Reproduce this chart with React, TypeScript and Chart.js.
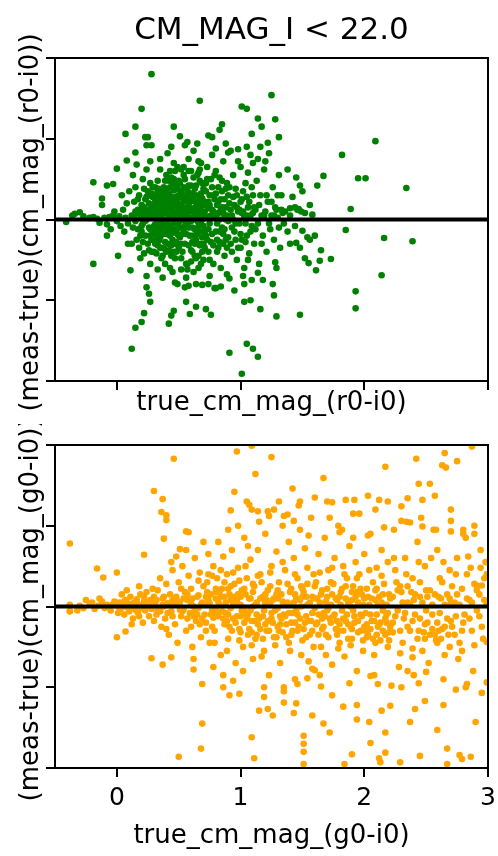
import { useEffect, useRef } from "react";
import { Chart, registerables } from "chart.js";

Chart.register(...registerables);
Chart.defaults.font.family = "'DejaVu Sans', sans-serif";
Chart.defaults.color = "#000";

const TITLE = "CM_MAG_I < 22.0";
const X_LABEL_TOP = "true_cm_mag_(r0-i0)";
const Y_LABEL_TOP = "(meas-true)(cm_mag_(r0-i0))";
const X_LABEL_BOTTOM = "true_cm_mag_(g0-i0)";
const Y_LABEL_BOTTOM = "(meas-true)(cm_mag_(g0-i0))";

const X_RANGE = [-0.5, 3];
const X_TICKS = [0, 1, 2, 3];
const Y_RANGE = [-2, 2];
const Y_TICKS = [-2, -1, 0, 1, 2];
const ZERO_LINE = 0;

const GREEN = "green";
const ORANGE = "orange";

// top panel: (true r-i colour, meas-true residual)
const greenPoints: [number, number][] = [
  [-0.41,-0.03],[-0.36,0.05],[-0.30,0.09],[-0.34,0.07],[-0.27,0.04],[-0.22,0.02],[-0.19,0.03],[-0.16,0.01],[-0.14,-0.04],[-0.12,0.26],
  [-0.10,0.02],[-0.08,-0.06],[-0.06,0.03],[-0.05,-0.12],[-0.03,0.05],[-0.02,0.10],[0.0,-0.02],[0.02,0.04],[0.03,-0.08],[0.05,0.12],
  [0.06,-0.15],[0.07,0.02],[0.08,0.20],[0.09,-0.05],[-0.08,-0.20],[0.01,-0.45],[-0.19,-0.55],[0.11,-0.63],[-0.19,0.46],[0.00,0.63],
  [0.08,0.73],[-0.08,0.42],[-0.03,0.44],[-0.12,0.18],[0.04,0.30],[0.10,0.35],[0.09,-0.30],
  [0.12,0.05],[0.13,-0.10],[0.14,0.22],[0.15,-0.02],[0.15,0.40],[0.16,-0.25],[0.17,0.12],[0.18,0.30],[0.18,-0.35],[0.19,0.02],
  [0.20,-0.15],[0.20,0.18],[0.21,0.50],[0.21,-0.05],[0.22,0.08],[0.22,-0.42],[0.23,0.25],[0.23,-0.20],[0.24,0.62],[0.24,0.00],
  [0.25,-0.30],[0.25,0.35],[0.26,0.10],[0.26,-0.10],[0.27,0.45],[0.27,-0.55],[0.28,0.15],[0.28,-0.25],[0.29,0.05],[0.29,0.28],
  [0.30,-0.40],[0.30,-0.08],[0.13,0.55],[0.16,0.68],[0.19,-0.48],[0.12,-0.30],[0.24,-0.70],[0.27,0.72],[0.14,0.05],[0.17,-0.12],
  [0.20,0.02],[0.23,-0.02],[0.26,0.20],[0.29,-0.15],[0.22,0.38],[0.18,0.08],[0.25,0.12],[0.21,-0.28],
  [0.31,0.10],[0.31,-0.18],[0.32,0.30],[0.32,0.02],[0.33,-0.32],[0.33,0.48],[0.34,0.15],[0.34,-0.05],[0.35,0.62],[0.35,-0.22],
  [0.36,0.05],[0.36,0.25],[0.37,-0.45],[0.37,0.12],[0.38,-0.10],[0.38,0.40],[0.39,0.00],[0.39,-0.28],[0.40,0.20],[0.40,0.55],
  [0.41,-0.15],[0.41,0.08],[0.42,-0.38],[0.42,0.32],[0.43,0.03],[0.43,-0.60],[0.44,0.18],[0.44,-0.08],[0.45,0.45],[0.45,-0.25],
  [0.46,0.10],[0.46,0.70],[0.47,-0.02],[0.47,-0.48],[0.48,0.28],[0.48,0.05],[0.49,-0.18],[0.49,0.38],[0.50,-0.35],[0.50,0.14],
  [0.31,0.40],[0.32,-0.42],[0.33,0.08],[0.34,0.22],[0.35,-0.12],[0.36,-0.35],[0.37,0.35],[0.38,0.18],[0.39,-0.55],[0.40,-0.05],
  [0.41,0.28],[0.42,0.12],[0.43,-0.20],[0.44,0.52],[0.45,0.02],[0.46,-0.40],[0.47,0.20],[0.48,-0.28],[0.49,0.08],[0.50,0.30],
  [0.32,0.12],[0.34,-0.15],[0.36,0.16],[0.38,-0.02],[0.40,0.08],[0.42,-0.10],[0.44,0.04],[0.46,0.24],[0.48,-0.12],[0.50,-0.04],
  [0.33,-0.62],[0.37,-0.72],[0.41,0.82],[0.45,-0.65],[0.49,0.65],[0.35,0.75],[0.43,0.60],[0.47,-0.78],[0.39,0.48],[0.31,-0.30],
  [0.51,0.05],[0.51,-0.22],[0.52,0.35],[0.52,0.12],[0.53,-0.40],[0.53,0.00],[0.54,0.22],[0.54,-0.12],[0.55,0.50],[0.55,-0.30],
  [0.56,0.08],[0.56,0.30],[0.57,-0.05],[0.57,-0.55],[0.58,0.18],[0.58,0.42],[0.59,-0.20],[0.59,0.02],[0.60,0.60],[0.60,-0.38],
  [0.61,0.12],[0.61,-0.10],[0.62,0.28],[0.62,-0.65],[0.63,0.05],[0.63,0.38],[0.64,-0.25],[0.64,0.15],[0.65,-0.02],[0.65,0.55],
  [0.66,-0.45],[0.66,0.22],[0.67,0.08],[0.67,-0.15],[0.68,0.32],[0.68,-0.30],[0.69,0.00],[0.69,0.45],[0.70,-0.08],[0.70,0.18],
  [0.52,-0.62],[0.54,0.65],[0.56,-0.72],[0.58,0.75],[0.60,0.25],[0.62,0.02],[0.64,0.42],[0.66,-0.60],[0.68,0.70],[0.70,-0.50],
  [0.53,0.15],[0.55,-0.08],[0.57,0.25],[0.59,0.32],[0.61,-0.28],[0.63,-0.12],[0.65,0.20],[0.67,0.48],[0.69,-0.22],[0.51,0.45],
  [0.64,-0.80],[0.58,-0.82],[0.62,0.85],[0.55,0.92],[0.66,0.72],
  [0.71,0.10],[0.72,-0.20],[0.72,0.35],[0.73,0.02],[0.74,-0.40],[0.74,0.22],[0.75,-0.05],[0.76,0.50],[0.76,-0.28],[0.77,0.12],
  [0.78,-0.55],[0.78,0.30],[0.79,0.05],[0.80,-0.15],[0.80,0.60],[0.81,0.18],[0.82,-0.35],[0.82,0.40],[0.83,0.00],[0.84,-0.60],
  [0.84,0.25],[0.85,-0.10],[0.86,0.72],[0.86,0.08],[0.87,-0.45],[0.88,0.15],[0.88,-0.25],[0.89,0.45],[0.90,-0.02],[0.90,0.30],
  [0.73,0.65],[0.75,-0.70],[0.77,0.80],[0.79,-0.85],[0.81,-0.05],[0.83,0.52],[0.85,0.35],[0.87,-0.12],[0.89,-0.68],[0.71,-0.35],
  [0.76,0.05],[0.80,0.02],[0.84,0.12],[0.88,0.00],
  [0.91,0.20],[0.92,-0.30],[0.93,0.05],[0.94,0.55],[0.95,-0.15],[0.96,0.38],[0.97,-0.50],[0.98,0.10],[0.99,-0.05],[1.00,0.65],
  [1.00,-0.35],[1.01,0.25],[1.02,-0.70],[1.03,0.02],[1.04,0.45],[1.05,-0.20],[1.06,0.15],[1.07,-0.42],[1.08,0.80],[1.09,-0.08],
  [1.10,0.30],[0.92,0.85],[0.95,-0.88],[0.98,0.72],[1.03,-0.60],[1.06,0.58],[1.09,-0.75],[0.94,0.00],[1.01,0.08],[1.05,0.90],
  [1.10,0.70],
  [1.11,-0.30],[1.12,0.12],[1.13,0.48],[1.14,-0.05],[1.15,-0.55],[1.16,0.30],[1.17,0.05],[1.18,-0.20],[1.19,0.62],[1.20,0.10],
  [1.21,-0.40],[1.22,0.22],[1.23,0.82],[1.24,-0.12],[1.25,0.05],[1.26,0.40],[1.27,-0.25],[1.28,0.15],[1.29,-0.60],[1.30,0.02],
  [1.31,0.55],[1.32,-0.35],[1.33,0.12],[1.34,0.08],[1.14,0.75],[1.18,-0.75],[1.22,0.95],[1.26,-0.80],[1.20,0.72],[1.30,0.30],
  [1.16,0.90],
  [1.36,0.10],[1.38,-0.15],[1.40,0.05],[1.42,0.28],[1.44,-0.08],[1.46,0.12],[1.48,-0.35],[1.50,0.35],[1.52,0.08],[1.54,-0.22],
  [1.56,0.18],[1.58,0.06],[1.45,0.52],[1.40,-0.30],[1.52,-0.48],[1.38,0.62],[1.40,0.14],[1.44,0.15],[1.47,0.13],[1.49,0.10],
  [0.28,1.80],[0.67,1.47],[1.25,1.54],[0.20,1.37],[1.01,1.40],[1.05,1.37],[1.14,1.25],[1.28,1.24],[0.15,1.15],[0.46,1.15],
  [0.85,1.18],[0.83,1.11],[1.17,1.15],[0.07,1.06],[0.74,1.04],[0.77,1.02],[1.09,1.06],[1.31,1.02],[2.09,0.97],[1.82,0.80],
  [0.23,1.02],[0.25,1.02],[0.24,0.92],[0.28,0.92],[0.51,1.03],[0.57,0.96],[0.65,0.94],[0.80,0.88],[0.88,0.94],[0.90,0.83],
  [0.98,0.87],[0.44,0.90],[0.15,0.83],[1.95,0.51],[2.01,0.51],[2.34,0.39],[1.67,0.54],[1.62,0.42],[1.89,0.13],[1.48,0.42],
  [1.85,-0.13],[2.16,-0.23],[2.39,-0.27],[1.73,-0.49],[1.65,-0.38],[1.64,-0.51],[1.61,-0.63],[1.55,-0.54],[1.60,-0.20],[1.56,-0.25],
  [1.45,-0.29],[1.50,-0.14],[2.14,-0.69],[1.93,-0.89],[1.93,-1.10],[1.48,-1.18],[1.29,-1.20],[1.27,-0.94],[1.28,-0.53],[1.16,-1.11],
  [1.03,-1.02],[1.08,-1.00],[1.05,-1.54],[1.10,-1.60],[1.14,-1.70],[0.91,-1.65],[1.01,-1.91],[0.12,-1.60],[0.15,-1.34],[0.20,-1.27],
  [0.22,-1.16],[0.27,-1.02],[0.42,-1.29],[0.44,-1.19],[0.46,-1.13],[0.59,-1.17],[0.64,-1.08],[0.72,-1.11],[0.76,-1.18],[0.56,-1.02],
  [0.49,-0.80],[0.55,-0.84],[0.24,-0.84],[0.26,-0.92],[1.03,-0.80],[1.14,-0.66],[0.91,-0.73],[0.84,-0.83],[0.80,-0.85],[0.69,-0.81],
  [0.74,-0.80],
  [0.30,0.02],[0.31,-0.06],[0.32,0.18],[0.33,0.26],[0.34,-0.26],[0.35,0.06],[0.35,0.32],[0.36,-0.08],[0.37,0.22],[0.37,-0.18],
  [0.38,0.08],[0.38,-0.36],[0.39,0.14],[0.39,0.30],[0.40,-0.18],[0.40,0.36],[0.41,-0.02],[0.41,-0.30],[0.42,0.22],[0.42,0.02],
  [0.43,0.40],[0.43,-0.12],[0.44,-0.32],[0.44,0.28],[0.45,0.12],[0.45,-0.14],[0.46,-0.04],[0.46,0.36],[0.47,0.08],[0.47,-0.30],
  [0.48,0.18],[0.48,0.42],[0.49,-0.06],[0.49,0.22],[0.50,0.02],[0.50,-0.20],[0.51,0.28],[0.51,-0.10],[0.52,0.00],[0.52,-0.30],
  [0.53,0.30],[0.53,-0.18],[0.54,0.08],[0.54,0.40],[0.55,-0.02],[0.55,0.24],[0.56,-0.18],[0.56,0.14],[0.57,0.36],[0.57,0.04],
  [0.58,-0.10],[0.58,-0.32],[0.59,0.12],[0.59,0.22],[0.60,-0.02],[0.60,0.10],[0.61,0.32],[0.61,-0.40],[0.62,-0.20],[0.62,0.14],
  [0.63,0.22],[0.63,-0.30],[0.64,0.02],[0.64,0.30],[0.65,0.08],[0.65,-0.18],[0.66,0.12],[0.66,-0.08],[0.67,0.28],[0.67,-0.32],
  [0.68,-0.05],[0.68,0.16],[0.69,0.26],[0.69,-0.40],[0.70,0.06],[0.70,0.38],[0.71,-0.15],[0.71,0.22],[0.72,0.04],[0.73,-0.25],
  [0.31,0.22],[0.33,-0.12],[0.34,0.38],[0.36,-0.48],[0.38,0.28],[0.40,-0.40],[0.42,0.48],[0.44,-0.45],[0.46,0.50],[0.48,-0.40],
  [0.50,0.48],[0.52,-0.48],[0.54,0.55],[0.56,-0.55],[0.58,0.60],[0.60,-0.52],[0.62,0.52],[0.64,-0.48],[0.66,0.58],[0.68,-0.55],
  [0.74,0.14],[0.75,0.30],[0.77,-0.18],[0.78,0.10],[0.79,0.25],[0.81,-0.25],[0.82,0.08],[0.83,-0.15],[0.85,0.15],[0.86,-0.30],
  [0.87,0.25],[0.89,0.05],[0.90,-0.22],[0.91,0.02],[0.93,-0.10],[0.95,0.18],[0.96,-0.25],[0.97,0.30],[0.99,0.12],[1.00,-0.18],
  [1.02,0.10],[1.04,-0.28],[1.05,0.05],[1.07,0.22],[1.08,-0.15],[1.10,0.08],[1.12,-0.12],[1.15,0.18],[1.17,-0.30],[1.19,0.05],
  [1.21,0.30],[1.23,-0.05],[1.25,0.22],[1.27,0.05],[1.29,0.12],[1.31,-0.10],[1.33,0.30],[1.35,-0.05],[0.25,0.05],[0.27,-0.12],
  [0.22,0.15],[0.20,-0.08],[0.28,0.32],[0.26,-0.38],[0.24,0.28],[0.21,0.10],[0.19,-0.20],[0.17,0.25],[0.15,0.10],[0.23,0.02],
  [0.36,0.02],[0.41,0.16],[0.46,-0.16],[0.51,0.18],[0.56,0.02],[0.61,0.02],[0.66,0.02],[0.53,0.08],[0.43,0.08],[0.39,-0.08],
  [0.72,0.45],[0.74,-0.12],[0.75,0.18],[0.77,0.40],[0.78,-0.32],[0.80,0.32],[0.81,-0.40],[0.82,0.22],[0.83,-0.28],[0.85,0.48],
  [0.86,-0.18],[0.87,0.05],[0.88,0.38],[0.89,-0.35],[0.91,0.40],[0.92,0.12],[0.93,-0.40],[0.94,0.28],[0.96,-0.05],[0.97,0.15],
  [0.98,-0.35],[1.00,0.22],[1.01,-0.25],[1.02,0.35],[1.04,-0.05],[1.05,0.28],[1.06,-0.50],[1.08,0.05],[1.09,0.40],[1.11,0.15],
  [0.26,0.30],[0.28,-0.40],[0.30,0.18],[0.32,-0.25],[0.34,0.05],[0.29,0.40],[0.27,-0.20],[0.33,0.35],[0.35,-0.35],[0.31,-0.10],
  [0.47,0.60],[0.52,0.62],[0.57,-0.62],[0.60,0.42],[0.63,-0.45],[0.67,0.62],[0.70,-0.30],[0.73,0.50],[0.75,-0.50],[0.79,0.55]
];

// bottom panel: (true g-i colour, meas-true residual)
const orangePoints: [number, number][] = [
  [-0.38,0.02],[-0.38,-0.06],[-0.30,0.01],[-0.27,-0.02],[-0.22,0.03],[-0.18,-0.03],[-0.15,0.01],[-0.12,0.06],[-0.10,-0.02],[-0.08,0.02],
  [-0.05,-0.05],[-0.03,0.03],[0.00,0.01],[0.01,-0.08],[0.02,0.05],[0.03,-0.03],[0.05,0.02],[0.06,-0.10],[0.07,0.08],[0.08,-0.01],
  [0.09,0.04],[0.10,-0.06],[0.11,0.12],[0.12,0.00],[0.13,-0.15],[0.14,0.05],[0.15,-0.04],[0.16,0.09],[0.17,-0.08],[0.18,0.02],
  [0.19,0.15],[0.20,-0.02],[0.21,-0.20],[0.22,0.06],[0.23,-0.05],[0.24,0.18],[0.25,0.01],[0.26,-0.12],[0.27,0.08],[0.28,-0.03],
  [0.29,0.22],[0.30,-0.18],[-0.14,0.10],[-0.20,0.05],[0.04,0.15],[0.12,-0.22],[0.18,0.25],[-0.32,-0.05],[-0.25,0.08],[0.08,0.20],
  [0.31,0.05],[0.32,-0.10],[0.33,0.20],[0.34,-0.02],[0.35,0.35],[0.36,-0.25],[0.37,0.10],[0.38,0.00],[0.39,-0.15],[0.40,0.28],
  [0.41,0.04],[0.42,-0.35],[0.43,0.15],[0.44,-0.06],[0.45,0.45],[0.46,0.02],[0.47,-0.22],[0.48,0.12],[0.49,-0.45],[0.50,0.30],
  [0.51,0.06],[0.52,-0.12],[0.53,0.50],[0.54,-0.03],[0.55,0.18],[0.56,-0.30],[0.57,0.08],[0.58,0.38],[0.59,-0.08],[0.60,0.22],
  [0.61,-0.50],[0.62,0.00],[0.63,0.60],[0.64,-0.18],[0.65,0.12],[0.66,-0.02],[0.67,0.42],[0.68,-0.38],[0.69,0.05],[0.70,0.25],
  [0.33,-0.05],[0.37,0.02],[0.41,-0.08],[0.45,0.08],[0.49,0.02],[0.53,-0.06],[0.57,0.15],[0.61,0.10],[0.65,-0.10],[0.69,-0.15],
  [0.40,-0.28],[0.52,0.22],[0.60,-0.25],[0.66,0.32],[0.44,0.55],[0.56,0.70],[0.62,-0.65],[0.70,0.80],[0.48,0.62],[0.58,0.92],
  [0.71,0.02],[0.72,-0.20],[0.73,0.30],[0.74,0.08],[0.75,-0.45],[0.76,0.15],[0.77,-0.05],[0.78,0.50],[0.79,-0.30],[0.80,0.10],
  [0.81,0.35],[0.82,-0.12],[0.83,0.02],[0.84,-0.60],[0.85,0.22],[0.86,0.62],[0.87,-0.22],[0.88,0.05],[0.89,0.40],[0.90,-0.40],
  [0.91,0.15],[0.92,-0.02],[0.93,0.70],[0.94,-0.15],[0.95,0.28],[0.96,-0.70],[0.97,0.08],[0.98,0.48],[0.99,-0.28],[1.00,0.02],
  [1.01,0.20],[1.02,-0.50],[1.03,0.85],[1.04,-0.08],[1.05,0.35],[1.06,-0.35],[1.07,0.10],[1.08,0.58],[1.09,-0.18],[1.10,0.00],
  [0.72,0.12],[0.76,-0.10],[0.80,-0.02],[0.84,0.12],[0.88,-0.08],[0.92,0.25],[0.96,0.05],[1.00,-0.12],[1.04,0.15],[1.08,-0.05],
  [0.74,0.65],[0.78,-0.75],[0.82,0.80],[0.86,-0.85],[0.90,0.95],[0.94,-0.92],[0.98,1.00],[1.02,-0.80],[1.06,0.75],[1.10,-0.65],
  [0.83,0.18],[0.91,-0.25],[0.99,0.32],[1.07,-0.28],[0.77,0.38],[0.95,0.12],[1.03,-0.02],[0.87,0.30],
  [1.11,0.25],[1.12,-0.40],[1.13,0.05],[1.14,0.70],[1.15,-0.15],[1.16,0.40],[1.17,-0.62],[1.18,0.12],[1.19,-0.05],[1.20,0.90],
  [1.21,-0.30],[1.22,0.20],[1.23,-0.85],[1.24,0.02],[1.25,0.50],[1.26,-0.20],[1.27,0.10],[1.28,-0.48],[1.29,0.68],[1.30,-0.02],
  [1.31,0.30],[1.32,-0.70],[1.33,0.15],[1.34,1.00],[1.35,-0.10],[1.36,0.45],[1.37,-0.38],[1.38,0.05],[1.39,0.80],[1.40,-0.55],
  [1.41,0.22],[1.42,-0.08],[1.43,0.60],[1.44,-0.90],[1.45,0.10],[1.46,0.35],[1.47,-0.25],[1.48,0.95],[1.49,0.00],[1.50,-0.42],
  [1.51,0.18],[1.52,0.72],[1.53,-0.12],[1.54,0.28],[1.55,-0.68],[1.56,0.05],[1.57,1.10],[1.58,-0.30],[1.59,0.40],[1.60,-0.02],
  [1.13,-0.10],[1.17,0.30],[1.21,0.08],[1.25,-0.08],[1.29,0.15],[1.33,-0.15],[1.37,0.02],[1.41,-0.20],[1.45,-0.05],[1.49,0.25],
  [1.53,0.12],[1.57,-0.18],[1.15,1.05],[1.27,1.20],[1.35,-1.05],[1.47,1.25],[1.19,-1.00],[1.55,0.88],[1.31,-0.30],[1.43,0.05],
  [1.61,0.30],[1.62,-0.20],[1.63,0.65],[1.64,0.05],[1.65,-0.50],[1.66,0.20],[1.67,-0.08],[1.68,0.85],[1.69,-0.35],[1.70,0.12],
  [1.71,0.45],[1.72,-0.15],[1.73,0.02],[1.74,-0.72],[1.75,0.28],[1.76,0.60],[1.77,-0.28],[1.78,0.08],[1.79,1.00],[1.80,-0.45],
  [1.81,0.18],[1.82,-0.05],[1.83,0.50],[1.84,-0.62],[1.85,0.10],[1.86,0.35],[1.87,-0.22],[1.88,0.75],[1.89,0.00],[1.90,-0.40],
  [1.91,0.25],[1.92,-0.12],[1.93,0.55],[1.94,-0.80],[1.95,0.05],[1.96,0.40],[1.97,-0.30],[1.98,0.15],[1.99,-0.55],[2.00,0.65],
  [2.01,-0.08],[2.02,0.22],[2.03,-0.35],[2.04,0.02],[2.05,0.90],[2.06,-0.18],[2.07,0.30],[2.08,-0.60],[2.09,0.08],[2.10,0.48],
  [2.11,-0.25],[2.12,0.12],[2.13,-0.42],[2.14,0.70],[2.15,-0.05],[2.16,0.28],[2.17,-0.15],[2.18,0.02],[2.19,0.55],[2.20,-0.32],
  [1.62,0.10],[1.66,-0.15],[1.70,-0.05],[1.74,0.15],[1.78,-0.18],[1.82,0.22],[1.86,-0.10],[1.90,0.08],[1.94,0.18],[1.98,-0.12],
  [2.02,-0.22],[2.06,0.10],[2.10,-0.10],[2.14,0.05],[2.18,-0.20],[1.72,1.10],[1.88,-0.95],[1.96,1.15],[2.08,-0.85],[1.64,-0.85],
  [1.80,0.92],[2.16,0.98],
  [2.21,0.10],[2.23,-0.20],[2.25,0.45],[2.27,-0.05],[2.29,0.25],[2.31,-0.45],[2.33,0.60],[2.35,0.05],[2.37,-0.30],[2.39,0.35],
  [2.41,-0.10],[2.43,0.80],[2.45,0.12],[2.47,-0.55],[2.49,0.50],[2.51,-0.20],[2.53,0.20],[2.55,0.02],[2.57,-0.35],[2.59,0.70],
  [2.61,-0.08],[2.63,0.30],[2.65,-0.60],[2.67,0.15],[2.69,0.45],[2.71,-0.25],[2.73,0.05],[2.75,0.60],[2.77,-0.45],[2.79,0.22],
  [2.81,-0.10],[2.83,0.40],[2.85,0.08],[2.87,-0.30],[2.89,0.28],[2.91,-0.05],[2.93,0.15],[2.95,-0.25],[2.97,0.35],[2.99,0.02],
  [2.24,0.95],[2.28,-0.75],[2.34,1.05],[2.40,-0.85],[2.46,1.10],[2.52,-0.70],[2.58,0.95],[2.64,-0.90],[2.70,1.20],[2.76,-0.65],
  [2.82,0.85],[2.88,-0.80],[2.94,0.70],[2.26,0.30],[2.38,0.18],[2.50,-0.05],[2.62,0.10],[2.74,-0.12],[2.86,0.48],[2.98,0.55],
  [2.55,-0.10],[2.65,0.02],[2.44,-0.30],[2.32,-0.15],[2.80,-0.20],
  [-0.38,0.78],[0.22,0.64],[-0.16,0.47],[0.00,0.42],[-0.11,0.36],[0.30,1.43],[0.37,1.33],[0.36,1.17],[0.40,1.13],[0.40,1.07],
  [0.46,1.83],[0.38,0.84],[0.56,0.93],[0.51,0.71],[0.97,1.92],[1.09,1.99],[1.25,1.85],[1.12,1.64],[0.95,1.42],[1.05,1.30],
  [1.07,1.26],[1.09,1.20],[0.92,1.19],[1.14,1.18],[1.22,1.18],[1.23,1.12],[1.31,1.30],[1.42,1.46],[1.48,1.30],[1.35,1.12],
  [1.38,1.14],[1.43,1.06],[1.67,1.59],[1.60,1.35],[1.70,1.30],[1.74,1.29],[1.85,1.32],[1.92,1.32],[2.03,1.37],[2.12,1.32],
  [2.19,1.30],[2.17,1.73],[2.42,1.83],[2.65,1.90],[2.75,1.80],[2.63,1.75],[2.66,1.72],[2.87,1.98],[2.44,1.52],[2.53,1.52],
  [2.57,1.37],[2.47,1.32],[2.35,1.34],[2.30,1.24],[2.09,1.20],[1.91,1.15],[1.82,0.95],[1.91,0.85],[2.03,0.88],[2.30,1.06],
  [2.37,1.04],[2.47,0.99],[2.56,0.95],[2.70,1.06],[2.70,0.93],[2.80,0.95],[2.80,0.90],[2.89,1.00],[2.89,0.90],[2.99,0.55],
  [2.99,0.40],[2.95,0.26],[2.91,0.26],[2.99,-0.44],[2.99,-0.94],[2.95,-1.07],[2.90,-1.43],[2.86,-1.86],[2.77,-1.84],[2.79,-1.89],
  [2.67,-1.76],[2.67,-1.95],[2.74,-1.03],[2.83,-0.96],[2.82,-1.00],[2.59,-1.53],[2.64,-1.22],[2.45,-1.85],[2.29,-1.93],[2.17,-1.56],
  [2.13,-1.93],[2.17,-1.81],[2.12,-1.88],[2.05,-1.69],[2.04,-1.43],[1.90,-1.83],[1.84,-1.95],[1.94,-1.40],[1.83,-1.24],[1.94,-1.22],
  [2.14,-1.29],[2.21,-1.23],[2.22,-0.98],[2.30,-1.00],[2.41,-1.27],[2.49,-1.17],[2.37,-1.43],[2.44,-0.95],[2.50,-0.81],[2.35,-0.80],
  [2.39,-0.63],[1.74,-1.10],[1.72,-1.56],[1.67,-1.45],[1.58,-1.35],[1.51,-1.60],[1.51,-1.70],[1.51,-1.80],[1.51,-1.95],[1.43,-1.32],
  [1.45,-1.20],[1.26,-1.35],[1.22,-1.27],[1.15,-1.29],[1.19,-1.12],[1.09,-1.62],[1.11,-1.88],[0.69,-1.45],[0.68,-1.76],[0.50,-1.86],
  [0.91,-1.10],[0.99,-1.08],[0.86,-1.00],[0.69,-0.96],[0.62,-0.78],[0.28,-0.64],[0.37,-0.72],[0.00,-0.38],[0.07,-0.31],[-0.38,-0.06],
  [0.44,-0.63],[1.35,-1.19],[1.35,-1.00],[1.46,-0.96],[1.54,-0.89],[1.65,-0.99],[1.58,-0.77],[1.60,-0.79],[2.05,-0.86],[2.11,-0.96],
  [0.32,0.08],[0.35,-0.06],[0.38,0.12],[0.42,0.02],[0.45,-0.12],[0.48,0.06],[0.51,-0.04],[0.54,0.10],[0.57,-0.15],[0.60,0.04],
  [0.63,-0.06],[0.66,0.14],[0.68,0.02],[0.71,-0.10],[0.73,0.18],[0.75,0.04],[0.78,-0.14],[0.80,0.22],[0.82,0.06],[0.85,-0.06],
  [0.87,0.12],[0.89,-0.18],[0.92,0.08],[0.94,0.02],[0.96,-0.20],[0.98,0.15],[1.01,-0.05],[1.03,0.22],[1.05,-0.15],[1.08,0.10],
  [1.10,0.18],[1.12,0.02],[1.14,-0.22],[1.16,0.10],[1.18,-0.12],[1.20,0.05],[1.22,-0.18],[1.24,0.25],[1.26,0.08],[1.28,-0.05],
  [1.30,0.20],[1.32,-0.22],[1.34,0.06],[1.36,-0.12],[1.38,0.28],[1.40,0.02],[1.42,-0.30],[1.44,0.15],[1.46,-0.10],[1.48,0.08],
  [1.50,0.22],[1.52,-0.20],[1.54,0.02],[1.56,-0.35],[1.58,0.12],[1.60,0.25],[1.63,-0.10],[1.65,0.15],[1.67,-0.25],[1.69,0.06],
  [1.71,-0.02],[1.73,0.30],[1.75,-0.12],[1.77,0.10],[1.79,-0.30],[1.81,0.02],[1.83,-0.15],[1.85,0.25],[1.87,0.05],[1.89,-0.25],
  [1.91,-0.05],[1.93,0.12],[1.95,-0.18],[1.97,0.22],[1.99,0.02],[2.01,-0.30],[2.03,0.12],[2.05,-0.10],[2.07,-0.40],[2.09,0.20],
  [2.11,0.02],[2.13,-0.20],[2.15,0.15],[2.17,-0.35],[2.19,-0.08],[2.21,-0.25],[2.23,0.12],[2.25,-0.12],[2.27,0.20],[2.29,-0.30],
  [2.31,0.05],[2.33,-0.08],[2.35,0.25],[2.37,0.02],[2.39,-0.18],[2.41,0.15],[2.43,-0.40],[2.45,0.30],[2.47,0.05],[2.49,-0.22],
  [2.51,0.12],[2.53,-0.35],[2.57,0.15],[2.59,-0.20],[2.61,0.35],[2.63,-0.28],[2.67,-0.15],[2.69,0.10],[2.71,0.25],[2.73,-0.35],
  [2.75,0.15],[2.77,0.02],[2.79,-0.30],[2.83,0.10],[2.85,-0.15],[2.87,0.05],[2.91,0.20],[2.93,-0.12],[2.97,0.08],[2.96,-0.40],
  [0.74,0.40],[0.79,-0.45],[0.84,0.45],[0.89,-0.55],[0.94,0.42],[0.99,-0.42],[1.04,0.50],[1.09,-0.48],[1.14,0.38],[1.19,-0.55],
  [1.24,0.42],[1.29,-0.38],[1.34,0.55],[1.39,-0.45],[1.44,0.40],[1.49,-0.60],[1.54,0.48],[1.59,-0.50],[1.64,0.42],[1.69,-0.60],
  [1.74,0.48],[1.79,-0.52],[1.84,0.40],[1.89,-0.48],[1.94,0.35],[1.99,-0.42],[2.04,0.45],[2.09,-0.45],[2.14,0.38],[2.19,-0.50],
  [2.24,0.60],[2.29,-0.58],[2.34,0.40],[2.39,-0.52],[2.44,0.55],[2.49,-0.40],[2.54,0.60],[2.59,-0.45],[2.64,0.55],[2.69,-0.50],
  [2.74,0.40],[2.79,-0.55],[2.84,0.62],[2.89,-0.48],[2.94,0.48],
  [0.10,0.02],[0.14,-0.02],[0.18,-0.12],[0.22,0.12],[0.26,0.04],[0.30,0.12],[0.06,0.06],[0.02,-0.02],[-0.02,0.06],[-0.06,-0.01],
  [0.62,-0.12],[0.67,-0.22],[0.72,-0.30],[0.77,-0.25],[0.81,-0.08],[0.86,-0.15],[0.90,-0.10],[0.93,-0.30],[0.97,-0.12],[1.00,-0.32],
  [1.03,-0.20],[1.06,-0.10],[1.09,-0.32],[1.11,-0.18],[1.13,-0.35],[1.16,-0.28],[1.18,-0.40],[1.20,-0.22],[1.23,-0.30],[1.25,-0.15],
  [1.27,-0.38],[1.30,-0.25],[1.32,-0.12],[1.34,-0.32],[1.37,-0.22],[1.39,-0.08],[1.41,-0.35],[1.44,-0.20],[1.46,-0.30],[1.48,-0.15],
  [1.51,-0.28],[1.53,-0.38],[1.55,-0.18],[1.58,-0.08],[1.61,-0.22],[1.63,-0.35],[1.66,-0.28],[1.68,-0.12],[1.71,-0.38],[1.73,-0.20],
  [1.76,-0.10],[1.78,-0.35],[1.80,-0.22],[1.83,-0.30],[1.85,-0.18],[1.87,-0.40],[1.90,-0.28],[1.92,-0.20],[1.95,-0.32],[1.97,-0.10],
  [2.00,-0.25],[2.02,-0.38],[2.05,-0.28],[2.08,-0.18],[2.10,-0.35],[2.12,-0.22],[2.15,-0.30],[2.18,-0.10],[2.20,-0.42],[2.23,-0.32],
  [0.80,0.18],[0.90,0.22],[1.00,0.12],[1.10,0.28],[1.20,0.15],[1.30,0.10],[1.40,0.18],[1.50,0.12],[1.60,0.10],[1.70,0.22],
  [1.80,0.12],[1.90,0.18],[2.00,0.10],[2.10,0.22],[2.20,0.15],[2.30,0.18],[2.40,0.08],[2.50,0.20],[2.60,0.12],[2.70,0.05],
  [2.60,-0.30],[2.62,-0.40],[2.65,-0.25],[2.68,-0.35],[2.70,-0.18],[2.55,-0.28],[2.58,-0.42],[2.45,-0.15],[2.48,-0.32],[2.35,-0.25]
];

type PanelSpec = {
  points: [number, number][];
  color: string;
  xLabel: string;
  yLabel: string;
  title: string | null;
  showXTickLabels: boolean;
  height: number;
  padTop: number;
  xAxisHeight: number;
  xTitlePadBottom: number;
};

const framePlugin = {
  id: "frame",
  afterDraw(chart: any) {
    const { ctx, chartArea } = chart;
    ctx.save();
    ctx.strokeStyle = "#000";
    ctx.lineWidth = 2;
    ctx.strokeRect(chartArea.left, chartArea.top, chartArea.right - chartArea.left, chartArea.bottom - chartArea.top);
    ctx.restore();
  },
};

const yLabelPlugin = {
  id: "yLabel",
  afterDraw(chart: any, _args: any, opts: any) {
    if (!opts || !opts.text) return;
    const { ctx, chartArea } = chart;
    const cy = (chartArea.top + chartArea.bottom) / 2 + (opts.dy || 0);
    ctx.save();
    ctx.translate(opts.x, cy);
    ctx.rotate(-Math.PI / 2);
    ctx.font = `${opts.size}px 'DejaVu Sans', sans-serif`;
    ctx.fillStyle = "#000";
    ctx.textAlign = "center";
    ctx.textBaseline = "alphabetic";
    ctx.fillText(opts.text, 0, 0);
    ctx.restore();
  },
};

function Panel({ spec, top }: { spec: PanelSpec; top: number }) {
  const ref = useRef<HTMLCanvasElement | null>(null);
  useEffect(() => {
    if (!ref.current) return;
    const chart = new Chart(ref.current, {
      type: "scatter",
      data: {
        datasets: [
          {
            data: spec.points.map(([x, y]) => ({ x, y })),
            backgroundColor: spec.color,
            borderWidth: 0,
            pointRadius: 3.3,
            pointHoverRadius: 3.3,
            pointBorderWidth: 0,
            clip: 0,
            order: 1,
          } as any,
          {
            data: [
              { x: X_RANGE[0], y: ZERO_LINE },
              { x: X_RANGE[1], y: ZERO_LINE },
            ],
            showLine: true,
            borderColor: "#000",
            borderWidth: 4,
            pointRadius: 0,
            pointHoverRadius: 0,
            clip: 0,
            order: 0,
          } as any,
        ],
      },
      options: {
        animation: false,
        responsive: false,
        devicePixelRatio: 1,
        events: [],
        layout: { padding: { left: 0, right: 10, top: spec.padTop, bottom: 0 } },
        plugins: {
          legend: { display: false },
          tooltip: { enabled: false },
          title: spec.title
            ? {
                display: true,
                text: spec.title,
                fullSize: false,
                color: "#000",
                font: { size: 31, weight: "normal" },
                padding: { top: 12.4, bottom: 8.4 },
              }
            : { display: false },
          yLabel: { text: spec.yLabel, x: 38, size: 26, dy: 3 },
        } as any,
        scales: {
          x: {
            type: "linear",
            position: "bottom",
            min: X_RANGE[0],
            max: X_RANGE[1],
            afterBuildTicks: (s: any) => {
              s.ticks = X_TICKS.map((v) => ({ value: v }));
            },
            afterFit: (s: any) => {
              s.height = spec.xAxisHeight;
              s.paddingLeft = 0;
              s.paddingRight = 0;
            },
            border: { display: false },
            grid: {
              drawOnChartArea: false,
              drawTicks: true,
              tickLength: 9,
              color: "#000",
              lineWidth: 2,
            },
            ticks: {
              display: spec.showXTickLabels,
              color: "#000",
              font: { size: 25 },
              padding: 6,
              maxRotation: 0,
              autoSkip: false,
              callback: (v: any) => String(v),
            },
            title: {
              display: true,
              text: spec.xLabel,
              color: "#000",
              font: { size: 26 },
              padding: { top: 0, bottom: spec.xTitlePadBottom },
            },
          },
          y: {
            type: "linear",
            min: Y_RANGE[0],
            max: Y_RANGE[1],
            afterBuildTicks: (s: any) => {
              s.ticks = Y_TICKS.map((v) => ({ value: v }));
            },
            afterFit: (s: any) => {
              s.width = 55;
            },
            border: { display: false },
            grid: {
              drawOnChartArea: false,
              drawTicks: true,
              tickLength: 9,
              color: "#000",
              lineWidth: 2,
            },
            ticks: { display: false },
          },
        },
      } as any,
      plugins: [framePlugin, yLabelPlugin],
    });
    return () => chart.destroy();
  }, [spec]);
  return (
    <canvas
      ref={ref}
      width={498}
      height={spec.height}
      style={{ position: "absolute", left: 0, top, width: 498, height: spec.height, display: "block" }}
    />
  );
}

const TOP_SPEC: PanelSpec = {
  points: greenPoints,
  color: GREEN,
  xLabel: X_LABEL_TOP,
  yLabel: Y_LABEL_TOP,
  title: TITLE,
  showXTickLabels: false,
  height: 424,
  padTop: 0,
  xAxisHeight: 43,
  xTitlePadBottom: 5.4,
};

const BOTTOM_SPEC: PanelSpec = {
  points: orangePoints,
  color: ORANGE,
  xLabel: X_LABEL_BOTTOM,
  yLabel: Y_LABEL_BOTTOM,
  title: null,
  showXTickLabels: true,
  height: 432,
  padTop: 21,
  xAxisHeight: 88,
  xTitlePadBottom: 4.4,
};

export default function App() {
  return (
    <div style={{ position: "fixed", left: 0, top: 0, width: 498, height: 856, background: "#fff", overflow: "hidden" }}>
      <Panel spec={TOP_SPEC} top={0} />
      <Panel spec={BOTTOM_SPEC} top={424} />
    </div>
  );
}
